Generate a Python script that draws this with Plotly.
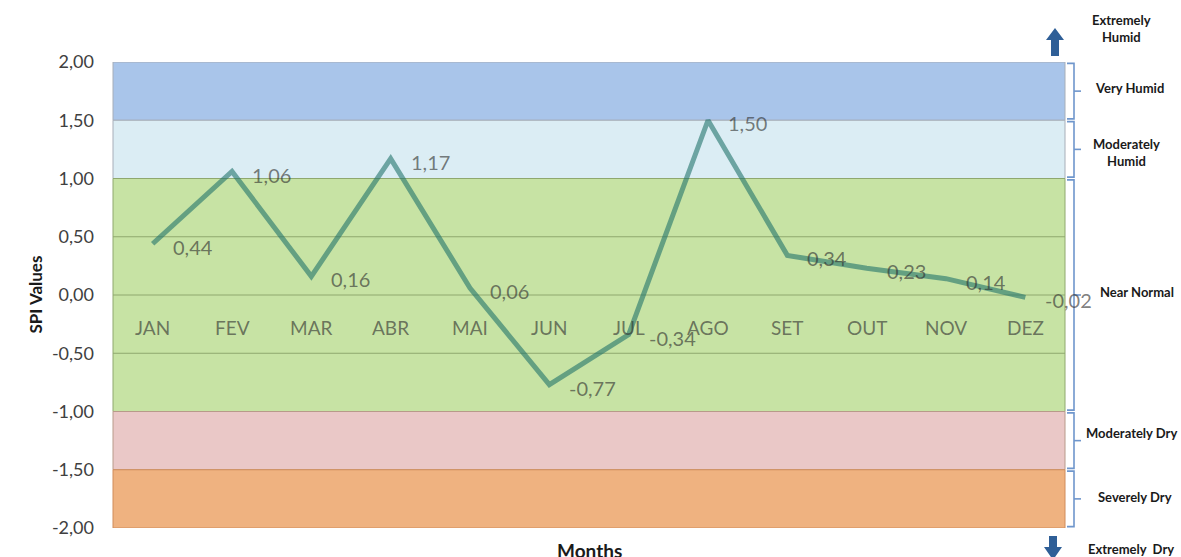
import plotly.graph_objects as go

# Monthly SPI values
months = ["JAN", "FEV", "MAR", "ABR", "MAI", "JUN", "JUL", "AGO", "SET", "OUT", "NOV", "DEZ"]
spi = [0.44, 1.06, 0.16, 1.17, 0.06, -0.77, -0.34, 1.50, 0.34, 0.23, 0.14, -0.02]

# SPI classes: (lower, upper, fill, edge, label)
band_low = [1.5, 1.0, -1.0, -1.5, -2.0]
band_high = [2.0, 1.5, 1.0, -1.0, -1.5]
band_fill = ["#a9c5ea", "#dbedf4", "#c7e3a4", "#eac8c7", "#efb280"]
band_edge = ["#a7aeb8", "#a7aeb8", "#8fa86e", "#b89a8a", "#d08c5a"]
band_label = ["<b>Very Humid</b>", "<b>Moderately<br>Humid</b>", "<b>Near Normal</b>",
              "<b>Moderately Dry</b>", "<b>Severely Dry</b>"]
band_label_x = [1129, 1126, 1137, 1131, 1135]
band_label_y = [88, 153, 292, 433, 497]
grid_vals = [0.5, 0.0, -0.5]
y_ticks = [2.0, 1.5, 1.0, 0.5, 0.0, -0.5, -1.0, -1.5, -2.0]


def comma(v):
    return f"{v:.2f}".replace(".", ",")


W, H = 1181, 557
L, R, T, B = 113, 116, 62, 29
PW, PH = W - L - R, H - T - B


def px(x):
    return (x - L) / PW


def py(y):
    return (H - B - y) / PH


label_col = "rgba(45,45,45,0.62)"
FONT = "Lato, 'Open Sans', sans-serif"
CLASS_FONT = dict(family=FONT, size=13, color="#1a1a1a")

fig = go.Figure()
fig.add_trace(go.Scatter(
    x=months, y=spi, mode="lines",
    line=dict(color="rgba(34,115,107,0.6)", width=5),
    hoverinfo="x+y", showlegend=False,
))

shapes = []
annotations = []
for lo, hi, fill, edge in zip(band_low, band_high, band_fill, band_edge):
    shapes.append(dict(type="rect", xref="paper", yref="y", x0=0, x1=1, y0=lo, y1=hi,
                       fillcolor=fill, line=dict(color=edge, width=1), layer="below"))
for g in grid_vals:
    shapes.append(dict(type="line", xref="paper", yref="y", x0=0, x1=1, y0=g, y1=g,
                       line=dict(color="#8fa86e", width=1), layer="below"))

# braces at the right of each class
bx0, bx1, bx2 = px(1067), px(1074), px(1081)
for lo, hi, lab, lx, ly in zip(band_low, band_high, band_label, band_label_x, band_label_y):
    a, b = lo + 0.012, hi - 0.012
    m = (lo + hi) / 2
    shapes.append(dict(type="path", xref="paper", yref="y",
                       path=f"M {bx0} {b} L {bx1} {b} L {bx1} {a} L {bx0} {a}",
                       line=dict(color="#6f96cc", width=1.6)))
    shapes.append(dict(type="line", xref="paper", yref="y", x0=bx1, x1=bx2, y0=m, y1=m,
                       line=dict(color="#6f96cc", width=1.6)))
    annotations.append(dict(x=px(lx), y=py(ly), xref="paper", yref="paper", text=lab,
                            showarrow=False, xanchor="center", yanchor="middle",
                            font=CLASS_FONT))

# open-ended classes with arrows
up = [(1055, 28), (1064, 40), (1059, 40), (1059, 56), (1051, 56), (1051, 40), (1046, 40)]
dn = [(1053, 560), (1062, 547), (1057, 547), (1057, 536), (1049, 536), (1049, 547), (1044, 547)]
for poly in (up, dn):
    path = "M " + " L ".join(f"{px(x)} {py(y)}" for x, y in poly) + " Z"
    shapes.append(dict(type="path", xref="paper", yref="paper", path=path,
                       fillcolor="#2f5f97", line=dict(width=0)))
annotations.append(dict(x=px(1121), y=py(47), xref="paper", yref="paper",
                        text="<b>Extremely<br>Humid</b>", showarrow=False,
                        xanchor="center", yanchor="bottom", font=CLASS_FONT))
annotations.append(dict(x=px(1131), y=py(539), xref="paper", yref="paper",
                        text="<b>Extremely  Dry</b>", showarrow=False,
                        xanchor="center", yanchor="top", font=CLASS_FONT))

# data labels to the right of each point
for m, v in zip(months, spi):
    annotations.append(dict(x=m, y=v, xref="x", yref="y",
                            text=comma(v), showarrow=False,
                            xanchor="left", yanchor="middle", xshift=18, yshift=-3,
                            font=dict(family=FONT, size=20, color=label_col)))
# month names inside the plot
for m in months:
    annotations.append(dict(x=m, y=-0.28, xref="x", yref="y", text=m, showarrow=False,
                            xanchor="center", yanchor="middle",
                            font=dict(family=FONT, size=19, color=label_col)))

annotations.append(dict(x=0.5, y=py(537), xref="paper", yref="paper", text="<b>Months</b>",
                        showarrow=False, xanchor="center", yanchor="top",
                        font=dict(family=FONT, size=19, color="#1a1a1a")))
annotations.append(dict(x=px(22), y=0.5, xref="paper", yref="paper", text="<b>SPI Values</b>",
                        textangle=-90, showarrow=False,
                        font=dict(family=FONT, size=17, color="#1a1a1a")))

fig.update_layout(
    width=W, height=H,
    margin=dict(l=L, r=R, t=T, b=B),
    paper_bgcolor="white", plot_bgcolor="white",
    shapes=shapes, annotations=annotations,
    xaxis=dict(range=[-0.5, 11.5], showticklabels=False, showgrid=False, zeroline=False,
               showline=False, fixedrange=True),
    yaxis=dict(range=[-2, 2], tickvals=y_ticks, ticktext=[comma(v) for v in y_ticks],
               showgrid=False, zeroline=False, showline=False, ticks="", ticklabelstandoff=18,
               tickfont=dict(family=FONT, size=18, color="#404040"), fixedrange=True),
    font=dict(family=FONT),
)

fig.write_html("out.html")
